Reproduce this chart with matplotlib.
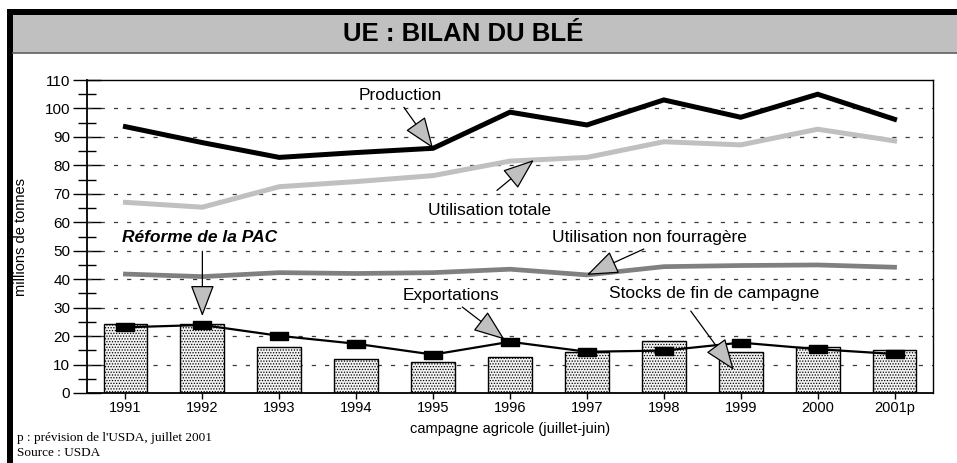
import numpy as np
import matplotlib
matplotlib.use('Agg')
import matplotlib.pyplot as plt
from matplotlib.patches import Rectangle
from matplotlib.lines import Line2D

# data, millions of tonnes
years = ['1991', '1992', '1993', '1994', '1995', '1996', '1997', '1998', '1999', '2000', '2001p']
production = [93.6, 88.0, 82.8, 84.5, 86.0, 98.7, 94.2, 103.0, 96.9, 105.0, 96.2]
utilisation_totale = [67.0, 65.3, 72.5, 74.3, 76.4, 81.5, 82.8, 88.3, 87.2, 92.7, 88.6]
utilisation_non_fourragere = [41.8, 40.9, 42.3, 42.0, 42.3, 43.5, 41.5, 44.4, 44.8, 45.0, 44.2]
exportations = [23.1, 23.9, 20.1, 17.3, 13.5, 18.0, 14.5, 14.9, 17.7, 15.4, 13.7]
stocks = [24.3, 24.1, 16.3, 11.8, 10.8, 12.8, 14.3, 18.3, 14.5, 16.2, 15.0]

W, H = 957, 463
plt.rcParams['font.family'] = ['Liberation Sans', 'DejaVu Sans']
plt.rcParams['hatch.color'] = '#9a9a9a'
plt.rcParams['hatch.linewidth'] = 0.6
plt.rcParams['lines.scale_dashes'] = False

fig = plt.figure(figsize=(W / 100, H / 100), dpi=100)


def fx(px):
    return px / W


def fy(py):
    return 1 - py / H


# frame: black top bar + left bar, grey title band
fig.add_artist(Rectangle((fx(7), fy(15)), 1, 6 / H, transform=fig.transFigure,
                         facecolor='black', edgecolor='none'))
fig.add_artist(Rectangle((fx(7), 0), 6 / W, fy(9), transform=fig.transFigure,
                         facecolor='black', edgecolor='none'))
fig.add_artist(Rectangle((fx(13), fy(53)), 1, 38 / H, transform=fig.transFigure,
                         facecolor='#c0c0c0', edgecolor='none'))
fig.add_artist(Line2D([fx(13), 1], [fy(53), fy(53)], transform=fig.transFigure,
                      color='#606060', lw=1.2))
fig.text(fx(463), fy(34), 'UE : BILAN DU BLÉ', ha='center', va='center',
         fontsize=18.5, fontweight='bold')

ax = fig.add_axes([fx(87), fy(393), fx(933) - fx(87), (393 - 80) / H])
x = np.arange(len(years))

ax.bar(x, stocks, width=0.57, facecolor='#f2f2f2', edgecolor='black', lw=1,
       hatch='......', zorder=2)
ax.plot(x, production, color='black', lw=3.6, zorder=3, solid_joinstyle='miter')
ax.plot(x, utilisation_totale, color='#c0c0c0', lw=3.6, zorder=3)
ax.plot(x, utilisation_non_fourragere, color='#808080', lw=3.4, zorder=3)
rect = [(-1, -0.48), (1, -0.48), (1, 0.48), (-1, 0.48), (-1, -0.48)]
ax.plot(x, exportations, color='black', lw=1.6, marker=rect, markersize=12.5,
        markerfacecolor='black', markeredgecolor='black', zorder=4)

ax.set_xlim(-0.5, len(years) - 0.5)
ax.set_ylim(0, 110)
ax.set_yticks(np.arange(0, 111, 10))
ax.set_yticks(np.arange(5, 110, 10), minor=True)
ax.set_xticks(x)
ax.set_xticklabels(years)
ax.tick_params(axis='y', which='major', direction='inout', length=20, width=1, labelsize=11, pad=2)
ax.tick_params(axis='y', which='minor', direction='inout', length=13, width=1)
ax.tick_params(axis='x', direction='out', length=4, width=1, labelsize=10.5, pad=2)
ax.tick_params(axis='y', which='both', right=False)

ax.set_axisbelow(True)
for yv in range(10, 101, 10):
    ax.axhline(yv, color='#3a3a3a', lw=0.9, dashes=(3, 6.5), zorder=1)
for s in ax.spines.values():
    s.set_linewidth(1)
ax.spines['left'].set_linewidth(1.3)
ax.spines['bottom'].set_linewidth(1.3)

ax.set_ylabel('millions de tonnes', fontsize=10.5)
ax.yaxis.set_label_coords(-0.07, 0.5)
ax.set_xlabel('campagne agricole (juillet-juin)', fontsize=10.5)
ax.xaxis.set_label_coords(0.5, -0.093)

arrow = dict(arrowstyle='-|>,head_length=1.0,head_width=0.38', facecolor='#c0c0c0',
             edgecolor='black', lw=0.9, mutation_scale=20, shrinkA=0, shrinkB=0)


def label(text, pos, tail, tip, **kw):
    ax.text(pos[0], pos[1], text, ha='center', va='center', fontsize=12.5, zorder=6, **kw)
    ax.annotate('', xy=tip, xytext=tail, arrowprops=arrow, zorder=6)


label('Production', (3.57, 104.6), (3.62, 100.4), (4.0, production[4]))
label('Utilisation totale', (4.73, 64.3), (4.83, 71.2), (5.31, 81.9))
label('Utilisation non fourragère', (6.81, 54.5), (6.74, 50.6), (6.0, utilisation_non_fourragere[6]))
label('Réforme de la PAC', (0.97, 54.5), (1.0, 49.8), (1.0, 27.0), fontweight='bold', fontstyle='italic')
label('Exportations', (4.23, 34.3), (4.38, 30.2), (4.93, 18.8))
label('Stocks de fin de campagne', (7.65, 34.8), (7.35, 28.8), (7.91, 8.1))

fig.text(fx(17), fy(438), "p : prévision de l'USDA, juillet 2001", fontsize=9.5,
         family=['Liberation Serif', 'DejaVu Serif'], va='center')
fig.text(fx(17), fy(453), 'Source : USDA', fontsize=9.5,
         family=['Liberation Serif', 'DejaVu Serif'], va='center')

fig.savefig('out.png', dpi=100)
